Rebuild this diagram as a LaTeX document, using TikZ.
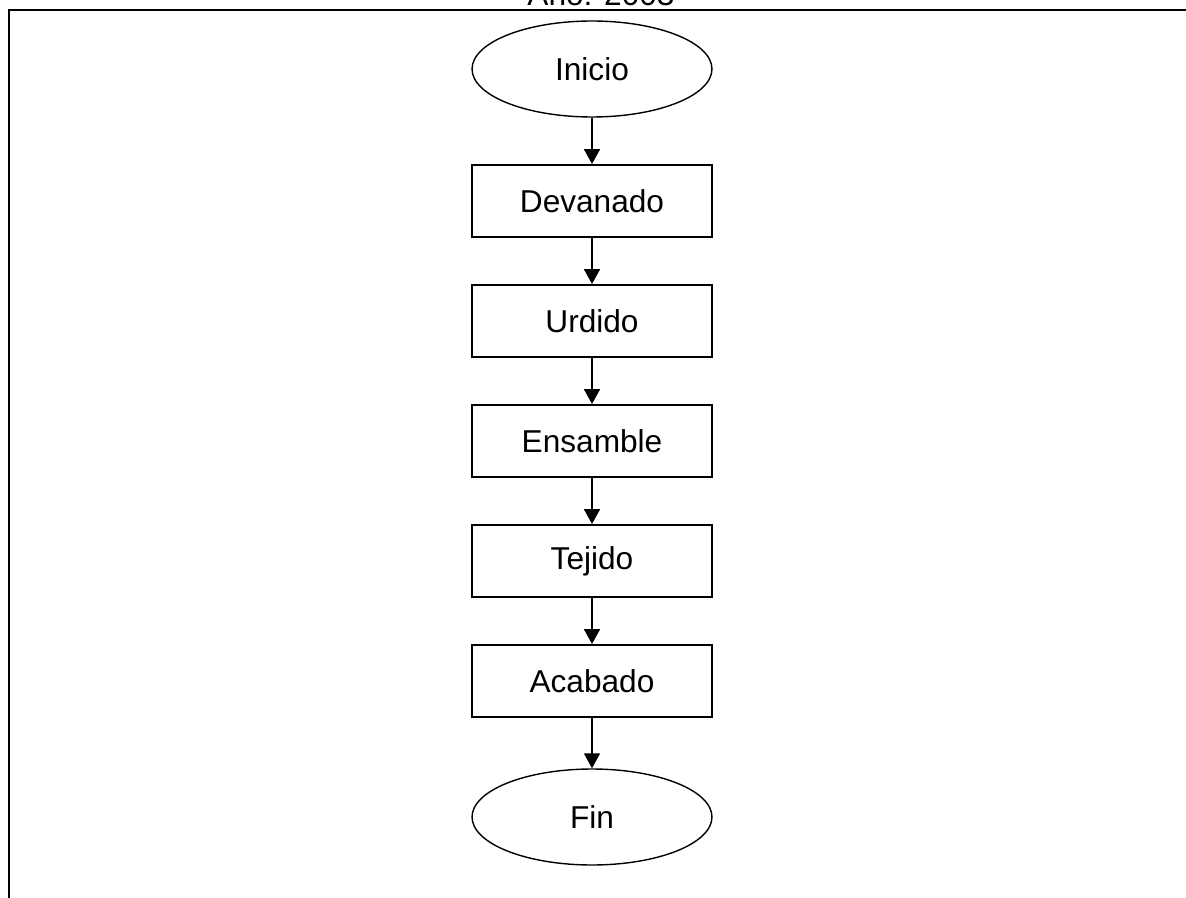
\documentclass[tikz,border=0pt]{standalone}
\usepackage{fontspec}
\setmainfont{Liberation Sans}
\usetikzlibrary{arrows.meta,shapes.geometric}
\begin{document}
\begin{tikzpicture}[x=0.02cm,y=-0.02cm,
  lbl/.style={font=\fontsize{18}{21}\selectfont},
  procbox/.style={draw,line width=1.1pt,minimum width=4.8cm,minimum height=1.44cm,inner sep=0pt,lbl},
  term/.style={draw,ellipse,line width=0.8pt,minimum width=4.8cm,minimum height=1.92cm,inner sep=0pt,lbl},
  flow/.style={line width=1pt,-{Triangle[width=0.32cm,length=0.3cm]}},
  frame/.style={line width=1.6pt}]
\useasboundingbox (0,0) rectangle (1186,898);
\node[lbl,anchor=base] (title) at (601,6) {Año: 2003};
\coordinate (fl) at (9,898);
\coordinate (ft) at (9,10);
\coordinate (fr) at (1186,10);
\draw[frame] (fl) -- (ft) -- (fr);
\node[term] (inicio) at (592,69) {Inicio};
\node[procbox] (dev) at (592,201) {Devanado};
\node[procbox] (urd) at (592,321) {Urdido};
\node[procbox] (ens) at (592,441) {Ensamble};
\node[procbox] (tej) at (592,561) {Tejido};
\node[procbox] (aca) at (592,681) {Acabado};
\node[term] (fin) at (592,817) {Fin};
\draw[flow] (inicio) -- (dev);
\draw[flow] (dev) -- (urd);
\draw[flow] (urd) -- (ens);
\draw[flow] (ens) -- (tej);
\draw[flow] (tej) -- (aca);
\draw[flow] (aca) -- (fin);
\end{tikzpicture}
\end{document}
